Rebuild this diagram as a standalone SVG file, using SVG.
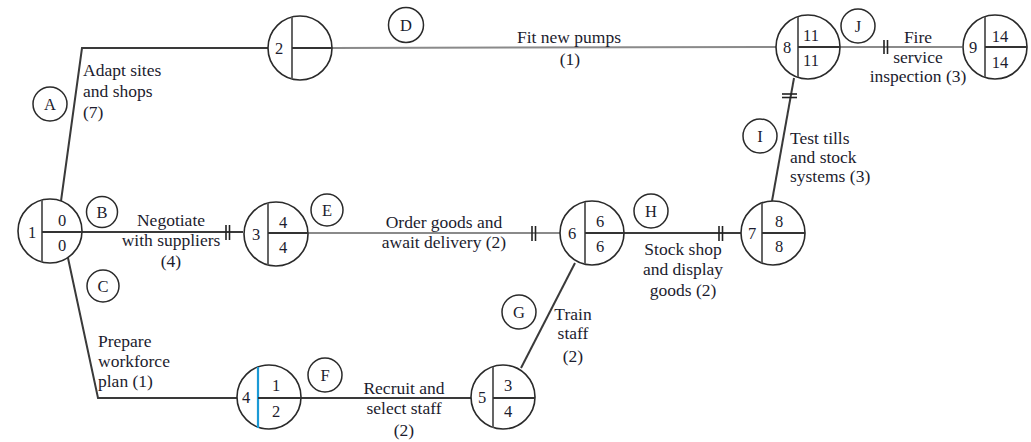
<svg xmlns="http://www.w3.org/2000/svg" width="1031" height="442" viewBox="0 0 1031 442">
<style>
.node{fill:none;stroke:#2a2a2a;stroke-width:1.6}
.div{stroke:#555;stroke-width:1.8}
.hdiv{stroke:#333;stroke-width:2}
.lbl{fill:#fff;stroke:#2a2a2a;stroke-width:1.5}
.edge{fill:none;stroke:#3a3a3a;stroke-width:2}
.edge.g{stroke:#8a8a8a}
.bar{stroke:#222;stroke-width:1.6}
text{font-family:"Liberation Serif","Times New Roman",serif;font-size:17.5px;fill:#1c1c2e}
.c{text-anchor:middle}
.n{font-size:16.5px;text-anchor:middle}
</style>
<rect width="1031" height="442" fill="#fff"/>
<g id="connectors">
  <polyline class="edge" points="61,201 82,48 268,48"/>
  <line class="edge" x1="82" y1="232" x2="243" y2="232"/>
  <line class="bar" x1="226" y1="225" x2="226" y2="240"/><line class="bar" x1="229.5" y1="225" x2="229.5" y2="240"/>
  <polyline class="edge" points="68,258 98,398 237,398"/>
  <line class="edge g" x1="332" y1="48" x2="776" y2="47"/>
  <line class="edge g" x1="308" y1="233" x2="560" y2="233"/>
  <line class="bar" x1="532" y1="226" x2="532" y2="241"/><line class="bar" x1="535.5" y1="226" x2="535.5" y2="241"/>
  <line class="edge" x1="301" y1="398" x2="471" y2="398"/>
  <line class="edge" x1="521" y1="368" x2="575" y2="263"/>
  <line class="edge" x1="624" y1="233" x2="741" y2="233"/>
  <line class="bar" x1="719" y1="226" x2="719" y2="241"/><line class="bar" x1="722.5" y1="226" x2="722.5" y2="241"/>
  <line class="edge" x1="772" y1="201" x2="794" y2="78"/>
  <line class="bar" x1="782" y1="94" x2="797" y2="94"/><line class="bar" x1="782" y1="97.5" x2="797" y2="97.5"/>
  <line class="edge g" x1="840" y1="47" x2="962" y2="47"/>
  <line class="bar" x1="884" y1="40" x2="884" y2="54"/><line class="bar" x1="887.5" y1="40" x2="887.5" y2="54"/>
</g>
<g id="node1">
  <circle class="node" cx="50" cy="231" r="32"/>
  <line class="div" x1="42" y1="200" x2="42" y2="262"/>
  <line class="hdiv" x1="42" y1="232" x2="82" y2="232"/>
  <text class="n" x="32" y="238">1</text>
  <text class="n" x="62" y="226">0</text>
  <text class="n" x="62" y="251">0</text>
</g>
<g id="node2">
  <circle class="node" cx="300" cy="48" r="32"/>
  <line class="div" x1="292" y1="17" x2="292" y2="79"/>
  <line class="hdiv" x1="292" y1="48" x2="332" y2="48"/>
  <text class="n" x="279" y="54">2</text>
</g>
<g id="node3">
  <circle class="node" cx="276" cy="234" r="32"/>
  <line class="div" x1="268" y1="203" x2="268" y2="265"/>
  <line class="hdiv" x1="268" y1="233" x2="308" y2="233"/>
  <text class="n" x="256" y="240">3</text>
  <text class="n" x="283" y="228">4</text>
  <text class="n" x="283" y="253">4</text>
</g>
<g id="node4">
  <circle class="node" cx="269" cy="397" r="32"/>
  <line x1="258" y1="367" x2="258" y2="428" stroke="#1b9ad6" stroke-width="2.2"/>
  <line class="hdiv" x1="258" y1="398" x2="301" y2="398"/>
  <text class="n" x="246" y="403">4</text>
  <text class="n" x="276" y="391">1</text>
  <text class="n" x="276" y="417">2</text>
</g>
<g id="node5">
  <circle class="node" cx="503" cy="397" r="32"/>
  <line class="div" x1="493" y1="367" x2="493" y2="428"/>
  <line class="hdiv" x1="493" y1="398" x2="535" y2="398"/>
  <text class="n" x="482" y="403">5</text>
  <text class="n" x="508" y="391">3</text>
  <text class="n" x="508" y="417">4</text>
</g>
<g id="node6">
  <circle class="node" cx="592" cy="233" r="32"/>
  <line class="div" x1="585" y1="202" x2="585" y2="264"/>
  <line class="hdiv" x1="585" y1="233" x2="624" y2="233"/>
  <text class="n" x="572" y="239">6</text>
  <text class="n" x="600" y="227">6</text>
  <text class="n" x="600" y="252">6</text>
</g>
<g id="node7">
  <circle class="node" cx="773" cy="233" r="32"/>
  <line class="div" x1="762" y1="203" x2="762" y2="263"/>
  <line class="hdiv" x1="762" y1="233" x2="805" y2="233"/>
  <text class="n" x="752" y="239">7</text>
  <text class="n" x="779" y="227">8</text>
  <text class="n" x="779" y="252">8</text>
</g>
<g id="node8">
  <circle class="node" cx="808" cy="47" r="32"/>
  <line class="div" x1="798" y1="17" x2="798" y2="77"/>
  <line class="hdiv" x1="798" y1="47" x2="840" y2="47"/>
  <text class="n" x="787" y="53">8</text>
  <text class="n" x="811" y="41">11</text>
  <text class="n" x="811" y="66">11</text>
</g>
<g id="node9">
  <circle class="node" cx="995" cy="47" r="32"/>
  <line class="div" x1="985" y1="17" x2="985" y2="77"/>
  <line class="hdiv" x1="985" y1="47" x2="1027" y2="47"/>
  <text class="n" x="973" y="53">9</text>
  <text class="n" x="1000" y="42">14</text>
  <text class="n" x="1000" y="68">14</text>
</g>
<g id="actA">
  <circle class="lbl" cx="50" cy="104" r="17"/>
  <text class="n" x="50" y="110">A</text>
  <text x="83" y="76">Adapt sites</text>
  <text x="83" y="97">and shops</text>
  <text x="83" y="118">(7)</text>
</g>
<g id="actB">
  <circle class="lbl" cx="102" cy="212" r="15.5"/>
  <text class="n" x="102" y="218">B</text>
  <text class="c" x="171" y="226">Negotiate</text>
  <text class="c" x="171" y="246">with suppliers</text>
  <text class="c" x="171" y="267">(4)</text>
</g>
<g id="actC">
  <circle class="lbl" cx="103" cy="286" r="16"/>
  <text class="n" x="103" y="292">C</text>
  <text x="98" y="347">Prepare</text>
  <text x="98" y="367">workforce</text>
  <text x="98" y="387">plan (1)</text>
</g>
<g id="actD">
  <circle class="lbl" cx="406" cy="25" r="17.5"/>
  <text class="n" x="406" y="31">D</text>
  <text class="c" x="569" y="43">Fit new pumps</text>
  <text class="c" x="570" y="65">(1)</text>
</g>
<g id="actE">
  <circle class="lbl" cx="327" cy="210" r="16"/>
  <text class="n" x="327" y="216">E</text>
  <text class="c" x="444" y="228">Order goods and</text>
  <text class="c" x="444" y="248">await delivery (2)</text>
</g>
<g id="actF">
  <circle class="lbl" cx="325" cy="375" r="17"/>
  <text class="n" x="325" y="381">F</text>
  <text class="c" x="404" y="394">Recruit and</text>
  <text class="c" x="404" y="414">select staff</text>
  <text class="c" x="404" y="436">(2)</text>
</g>
<g id="actG">
  <circle class="lbl" cx="519" cy="312" r="17"/>
  <text class="n" x="519" y="318">G</text>
  <text class="c" x="573" y="320">Train</text>
  <text class="c" x="573" y="339">staff</text>
  <text class="c" x="573" y="362">(2)</text>
</g>
<g id="actH">
  <circle class="lbl" cx="651" cy="211" r="17"/>
  <text class="n" x="651" y="217">H</text>
  <text class="c" x="683" y="255">Stock shop</text>
  <text class="c" x="683" y="275">and display</text>
  <text class="c" x="683" y="296">goods (2)</text>
</g>
<g id="actI">
  <circle class="lbl" cx="760" cy="136" r="17"/>
  <text class="n" x="760" y="142">I</text>
  <text x="790" y="144">Test tills</text>
  <text x="790" y="163">and stock</text>
  <text x="790" y="182">systems (3)</text>
</g>
<g id="actJ">
  <circle class="lbl" cx="858" cy="26" r="17"/>
  <text class="n" x="858" y="32">J</text>
  <text class="c" x="918" y="43">Fire</text>
  <text class="c" x="918" y="63">service</text>
  <text class="c" x="918" y="82">inspection (3)</text>
</g>
</svg>
